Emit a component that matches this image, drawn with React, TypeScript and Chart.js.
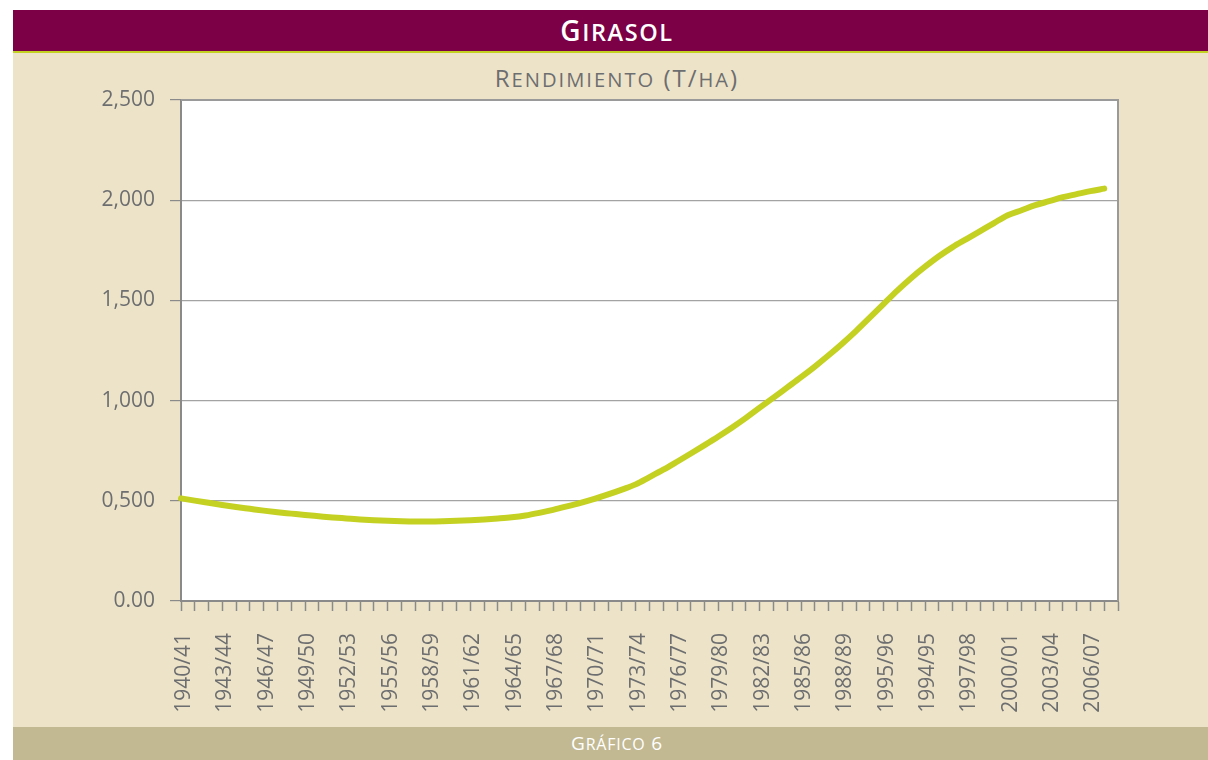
import React, { useEffect, useRef } from "react";
import { Chart, registerables } from "chart.js";

Chart.register(...registerables);

const TITLE = "Girasol";
const SUBTITLE = "Rendimiento (T/ha)";
const FOOTER = "Gráfico 6";

const categories = [
  "1940/41", "1941/42", "1942/43", "1943/44", "1944/45", "1945/46", "1946/47", "1947/48", "1948/49",
  "1949/50", "1950/51", "1951/52", "1952/53", "1953/54", "1954/55", "1955/56", "1956/57", "1957/58",
  "1958/59", "1959/60", "1960/61", "1961/62", "1962/63", "1963/64", "1964/65", "1965/66", "1966/67",
  "1967/68", "1968/69", "1969/70", "1970/71", "1971/72", "1972/73", "1973/74", "1974/75", "1975/76",
  "1976/77", "1977/78", "1978/79", "1979/80", "1980/81", "1981/82", "1982/83", "1983/84", "1984/85",
  "1985/86", "1986/87", "1987/88", "1988/89", "1989/90", "1990/91", "1995/96", "1992/93", "1993/94",
  "1994/95", "1995/96", "1996/97", "1997/98", "1998/99", "1999/00", "2000/01", "2001/02", "2002/03",
  "2003/04", "2004/05", "2005/06", "2006/07", "2007/08", "2008/09",
];

const rendimiento = [
  0.512, 0.501, 0.490, 0.479, 0.469, 0.460, 0.451, 0.443, 0.436,
  0.429, 0.423, 0.417, 0.412, 0.407, 0.403, 0.400, 0.398, 0.397,
  0.397, 0.398, 0.400, 0.403, 0.407, 0.412, 0.418, 0.427, 0.440,
  0.455, 0.472, 0.490, 0.510, 0.532, 0.556, 0.582, 0.618, 0.655,
  0.695, 0.736, 0.778, 0.821, 0.866, 0.914, 0.965, 1.015, 1.066,
  1.117, 1.170, 1.226, 1.285, 1.348, 1.415, 1.483, 1.550, 1.612,
  1.668, 1.720, 1.766, 1.806, 1.846, 1.886, 1.925, 1.950, 1.975,
  1.995, 2.015, 2.030, 2.045, 2.058, null,
];

const yTickValues = [0, 0.5, 1, 1.5, 2, 2.5];
const yTickLabels = ["0.00", "0,500", "1,000", "1,500", "2,000", "2,500"];
const LABEL_EVERY = 3;

const FONT = "'Open Sans', 'Noto Sans', sans-serif";
const GREY_TEXT = "#6d6e70";

// Renders text in "small caps" style: lowercase runs shown as slightly smaller capitals.
function SmallCaps({ text, ratio }: { text: string; ratio: number }) {
  const parts: { s: string; low: boolean }[] = [];
  for (const ch of text) {
    const low = ch !== ch.toUpperCase();
    const last = parts[parts.length - 1];
    if (last && last.low === low) last.s += ch;
    else parts.push({ s: ch, low });
  }
  return (
    <>
      {parts.map((p, i) =>
        p.low ? (
          <span key={i} style={{ fontSize: `${ratio}em`, textTransform: "uppercase" }}>
            {p.s}
          </span>
        ) : (
          <span key={i}>{p.s}</span>
        )
      )}
    </>
  );
}

const plotFrame = {
  id: "plotFrame",
  beforeDraw(chart: any) {
    const { ctx, chartArea } = chart;
    ctx.save();
    ctx.fillStyle = "#ffffff";
    ctx.fillRect(chartArea.left, chartArea.top, chartArea.right - chartArea.left, chartArea.bottom - chartArea.top);
    ctx.restore();
  },
  afterDraw(chart: any) {
    const { ctx, chartArea } = chart;
    ctx.save();
    ctx.strokeStyle = "#9a9a9a";
    ctx.lineWidth = 2;
    ctx.beginPath();
    ctx.moveTo(chartArea.left, chartArea.top);
    ctx.lineTo(chartArea.right, chartArea.top);
    ctx.lineTo(chartArea.right, chartArea.bottom);
    ctx.stroke();
    ctx.restore();
  },
};

export default function App() {
  const canvasRef = useRef<HTMLCanvasElement | null>(null);

  useEffect(() => {
    if (!canvasRef.current) return;
    const chart = new Chart(canvasRef.current, {
      type: "line",
      data: {
        labels: categories,
        datasets: [
          {
            data: rendimiento,
            borderColor: "#c4d122",
            borderWidth: 6,
            borderCapStyle: "round",
            borderJoinStyle: "round",
            pointRadius: 0,
            cubicInterpolationMode: "monotone",
            fill: false,
            spanGaps: false,
          },
        ],
      },
      options: {
        animation: false,
        responsive: false,
        events: [],
        layout: { padding: { left: 81, right: 90, top: 100, bottom: 39 } },
        plugins: { legend: { display: false }, tooltip: { enabled: false }, title: { display: false } },
        scales: {
          x: {
            type: "category",
            offset: false,
            afterFit: (scale: any) => {
              scale.height = 120;
            },
            grid: {
              drawOnChartArea: false,
              drawTicks: true,
              tickLength: 10,
              tickColor: "#8a8a8a",
              tickWidth: 1.5,
            },
            border: { display: true, color: "#8a8a8a", width: 2 },
            ticks: {
              autoSkip: false,
              maxRotation: 90,
              minRotation: 90,
              padding: 22,
              labelOffset: 3,
              color: GREY_TEXT,
              font: { family: FONT, size: 21 },
              callback: (_v: any, i: number) => (i % LABEL_EVERY === 0 ? categories[i] : ""),
            },
          },
          y: {
            min: 0,
            max: 2.5,
            afterFit: (scale: any) => {
              scale.width = 100;
            },
            afterBuildTicks: (scale: any) => {
              scale.ticks = yTickValues.map((v) => ({ value: v }));
            },
            grid: {
              drawOnChartArea: true,
              drawTicks: true,
              tickLength: 11,
              color: "#a3a3a3",
              tickColor: "#8a8a8a",
              lineWidth: 1.2,
            },
            border: { display: true, color: "#8a8a8a", width: 2 },
            ticks: {
              padding: 15,
              color: GREY_TEXT,
              font: { family: FONT, size: 21 },
              callback: (v: any) => {
                const i = yTickValues.indexOf(Number(v));
                return i >= 0 ? yTickLabels[i] : "";
              },
            },
          },
        },
      },
      plugins: [plotFrame],
    } as any);
    return () => chart.destroy();
  }, []);

  return (
    <div style={{ position: "fixed", left: 0, top: 0, width: 1208, height: 760, background: "#ffffff", overflow: "hidden" }}>
      <div style={{ position: "absolute", left: 13, top: 10, width: 1195, height: 41, background: "#7b0045" }} />
      <div style={{ position: "absolute", left: 13, top: 51, width: 1195, height: 2, background: "#c4d122" }} />
      <div style={{ position: "absolute", left: 13, top: 53, width: 1195, height: 674, background: "#ede3c8" }} />
      <div style={{ position: "absolute", left: 13, top: 727, width: 1195, height: 33, background: "#c2b993" }} />
      <div
        style={{
          position: "absolute", left: 417, top: 10, width: 400, height: 41, lineHeight: "41px", textAlign: "center",
          color: "#ffffff", fontFamily: FONT, fontWeight: 600, fontSize: 28, letterSpacing: 1.6, whiteSpace: "nowrap",
        }}
      >
        <SmallCaps text={TITLE} ratio={0.84} />
      </div>
      <div
        style={{
          position: "absolute", left: 367, top: 59, width: 500, height: 38, lineHeight: "38px", textAlign: "center",
          color: GREY_TEXT, fontFamily: FONT, fontWeight: 400, fontSize: 24, letterSpacing: 2, whiteSpace: "nowrap",
        }}
      >
        <SmallCaps text={SUBTITLE} ratio={0.84} />
      </div>
      <div
        style={{
          position: "absolute", left: 467, top: 727, width: 300, height: 33, lineHeight: "33px", textAlign: "center",
          color: "#ffffff", fontFamily: FONT, fontWeight: 400, fontSize: 19, letterSpacing: 0.8, whiteSpace: "nowrap",
        }}
      >
        <SmallCaps text={FOOTER} ratio={0.84} />
      </div>
      <canvas ref={canvasRef} width={1208} height={760} style={{ position: "absolute", left: 0, top: 0, width: 1208, height: 760 }} />
    </div>
  );
}
